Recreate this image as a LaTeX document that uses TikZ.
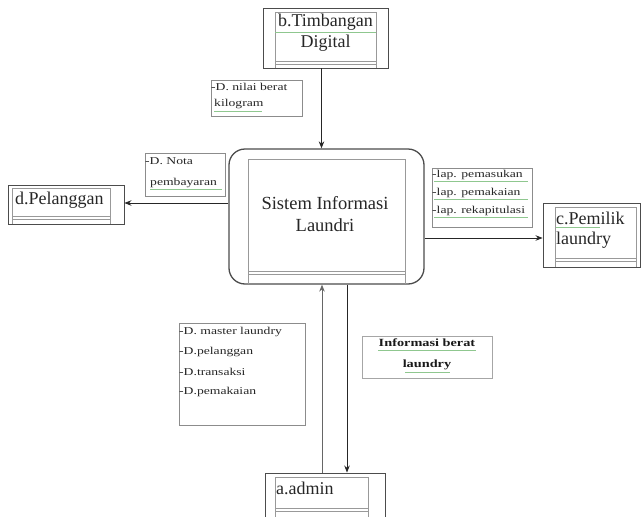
\documentclass[tikz,border=0pt]{standalone}
\usepackage{fontspec}
\setmainfont{Liberation Serif}
\newfontfamily\labfont[FakeStretch=1.3]{Liberation Serif}
\usetikzlibrary{arrows.meta}
\definecolor{spell}{HTML}{8FC78F}
\begin{document}
\begin{tikzpicture}[x=1pt,y=-1pt,
  frame/.style={draw=black!70, line width=0.9pt},
  innerline/.style={draw=black!40, line width=0.6pt},
  lblbox/.style={draw=black!45, line width=0.6pt},
  arr/.style={draw=black!85, line width=0.9pt, -{Stealth[length=7pt,width=5.5pt]}},
  enttext/.style={font=\fontsize{18}{20}\selectfont, text=black!85, inner sep=0pt},
  lbl/.style={font=\labfont\fontsize{10.5}{12}\selectfont, text=black!85, inner sep=0pt, anchor=west},
  boldlbl/.style={font=\labfont\bfseries\fontsize{11}{13}\selectfont, text=black!90, inner sep=0pt},
  green/.style={draw=spell, line width=0.8pt},
]
\useasboundingbox (0,0) rectangle (641,517);

% ---------- main process ----------
\node[frame, line width=1.3pt, rounded corners=16pt, minimum width=195pt, minimum height=135pt, inner sep=0pt] (sys) at (326.5,216.5) {};
\draw[innerline] (248,284) -- (248,159) -- (405,159) -- (405,284);
\draw[innerline] (248,271) -- (405,271);
\draw[innerline] (248,274) -- (405,274);
\node[enttext, font=\fontsize{18.5}{22}\selectfont, align=center] (systxt) at (325,214) {Sistem Informasi\\Laundri};

% ---------- b. Timbangan Digital ----------
\node[frame, minimum width=125pt, minimum height=60pt, inner sep=0pt] (tb) at (325.5,38) {};
\draw[innerline] (275,68) -- (275,12) -- (376,12) -- (376,68);
\draw[innerline] (275,61) -- (376,61);
\draw[innerline] (275,64) -- (376,64);
\draw[green] (275,32) -- (376,32);
\node[enttext] (tbtxt1) at (325.5,22) {b.Timbangan};
\node[enttext] (tbtxt2) at (325.5,43) {Digital};

% ---------- d. Pelanggan ----------
\node[frame, minimum width=116pt, minimum height=39pt, inner sep=0pt] (pel) at (66,204.5) {};
\draw[innerline] (12,224) -- (12,188) -- (110,188) -- (110,224);
\draw[innerline] (12,216) -- (110,216);
\draw[innerline] (12,219) -- (110,219);
\node[enttext, anchor=west] (peltxt) at (15,200) {d.Pelanggan};

% ---------- c. Pemilik laundry ----------
\node[frame, minimum width=97pt, minimum height=64pt, inner sep=0pt] (pem) at (591.5,235) {};
\draw[innerline] (555,267) -- (555,207) -- (636,207) -- (636,267);
\draw[innerline] (555,258) -- (636,258);
\draw[innerline] (555,261) -- (636,261);
\draw[green] (556,227) -- (600,227);
\node[enttext, anchor=west] (pemtxt1) at (556,218) {c.Pemilik};
\node[enttext, anchor=west] (pemtxt2) at (556,240) {laundry};

% ---------- a. admin ----------
\node[frame, minimum width=120pt, minimum height=46pt, inner sep=0pt] (adm) at (325,496) {};
\draw[innerline] (275,517) -- (275,477) -- (368,477) -- (368,517);
\draw[innerline] (275,508) -- (368,508);
\draw[innerline] (275,511) -- (368,511);
\node[enttext, anchor=west] (admtxt) at (276,488) {a.admin};

% ---------- flows ----------
\draw[arr] ([xshift=-4pt]tb.south) -- ([xshift=-4pt]tb.south |- sys.north);
\draw[arr] ([yshift=13.5pt]sys.west) -- ([yshift=13.5pt]sys.west -| pel.east);
\draw[arr] ([yshift=-21.5pt]sys.east) -- ([yshift=-21.5pt]sys.east -| pem.west);
\draw[arr, draw=black!60] ([xshift=-4.5pt]sys.south |- adm.north) -- ([xshift=-4.5pt]sys.south);
\draw[arr] ([xshift=20.5pt]sys.south) -- ([xshift=20.5pt]sys.south |- adm.north);

% ---------- flow labels ----------
% nilai berat
\draw[lblbox] (211,80) rectangle (302,116);
\node[lbl] (nb1) at (211,87) {-D. nilai berat};
\node[lbl] (nb2) at (214,104) {kilogram};
\draw[green] (214,111) -- (262,111);

% nota
\draw[lblbox] (145,153) rectangle (225,196);
\node[lbl] (nt1) at (145,161) {-D. Nota};
\node[lbl] (nt2) at (150,183) {pembayaran};
\draw[green] (150,189) -- (222,189);

% laporan
\draw[lblbox] (432,168) rectangle (532,227);
\node[lbl] (lp1) at (432,175) {-lap. pemasukan};
\node[lbl] (lp2) at (432,193) {-lap. pemakaian};
\node[lbl] (lp3) at (432,211) {-lap. rekapitulasi};
\draw[green] (434,181) -- (528,181);
\draw[green] (434,199) -- (528,199);
\draw[green] (434,217) -- (528,217);

% admin inputs
\draw[lblbox] (179,323) rectangle (305,425);
\node[lbl] (ad1) at (179,332) {-D. master laundry};
\node[lbl] (ad2) at (179,352) {-D.pelanggan};
\node[lbl] (ad3) at (179,372) {-D.transaksi};
\node[lbl] (ad4) at (179,392) {-D.pemakaian};

% informasi berat
\draw[lblbox, draw=black!35] (362,336) rectangle (492,378);
\node[boldlbl] (ib1) at (427,343) {Informasi berat};
\node[boldlbl] (ib2) at (427,365) {laundry};
\draw[green] (378,350) -- (476,350);
\draw[green] (405,372) -- (450,372);
\end{tikzpicture}
\end{document}
